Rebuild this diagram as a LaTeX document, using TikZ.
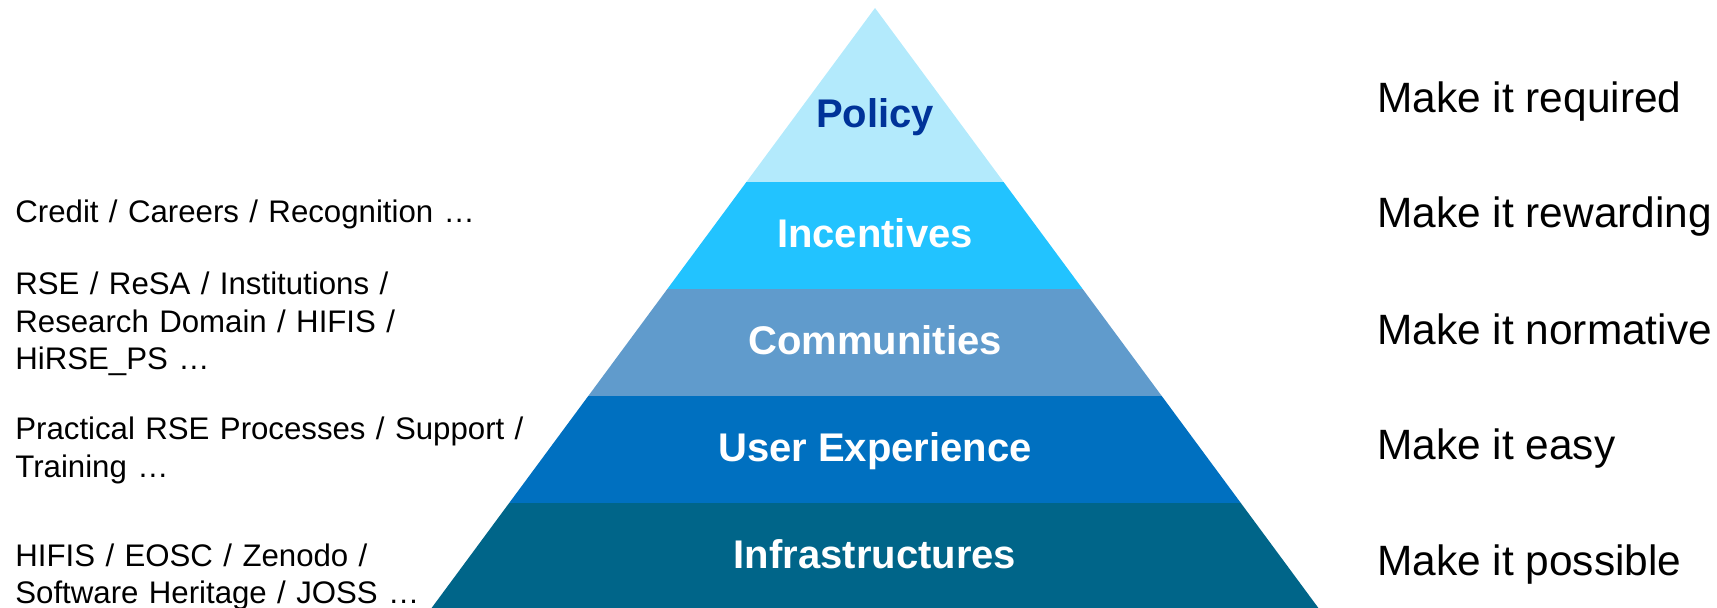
\documentclass[tikz,border=0pt]{standalone}
\usepackage{fontspec}
\setmainfont{Liberation Sans}
\definecolor{cPolicy}{RGB}{179,234,252}
\definecolor{cIncent}{RGB}{34,195,255}
\definecolor{cComm}{RGB}{96,155,204}
\definecolor{cUX}{RGB}{0,112,192}
\definecolor{cInfra}{RGB}{0,101,137}
\definecolor{cPolText}{RGB}{0,51,153}
\tikzset{
  bandlabel/.style={anchor=base, inner sep=0pt, text=white, font={\fontsize{20}{24}\selectfont\bfseries}},
  sidenote/.style={anchor=base west, inner sep=0pt, text width=300pt, align=left, font={\fontsize{15.6}{18.6}\selectfont}},
  motto/.style={anchor=base west, inner sep=0pt, font={\fontsize{21.2}{25}\selectfont}}
}
\begin{document}
\begin{tikzpicture}[x=0.5pt,y=-0.5pt]
\useasboundingbox (0,0) rectangle (1717,608);
\coordinate (apex) at (875,8);
\coordinate (bl) at (431.6,608);
\coordinate (br) at (1318.4,608);
\begin{scope}
  \clip (apex) -- (br) -- (bl) -- cycle;
  \fill[cPolicy] (0,0) rectangle (1717,182);
  \fill[cIncent] (0,182) rectangle (1717,289);
  \fill[cComm] (0,289) rectangle (1717,396);
  \fill[cUX] (0,396) rectangle (1717,503);
  \fill[cInfra] (0,503) rectangle (1717,610);
\end{scope}
\node[bandlabel, text=cPolText] (policy) at (875,128) {Policy};
\node[bandlabel] (incent) at (875,248) {Incentives};
\node[bandlabel] (comm) at (875,355) {Communities};
\node[bandlabel] (ux) at (875,462) {User Experience};
\node[bandlabel] (infra) at (875,568) {Infrastructures};

\node[sidenote] (credit) at (15,223) {Credit / Careers / Recognition …};
\node[sidenote] (rse) at (15,295) {RSE / ReSA / Institutions /\\Research Domain / HIFIS /\\HiRSE\_PS …};
\node[sidenote] (prac) at (15,440) {Practical RSE Processes / Support /\\Training …};
\node[sidenote] (hifis) at (15,566) {HIFIS / EOSC / Zenodo /\\Software Heritage / JOSS …};

\node[motto] (m1) at (1377,113) {Make it required};
\node[motto] (m2) at (1377,228) {Make it rewarding};
\node[motto] (m3) at (1377,345) {Make it normative};
\node[motto] (m4) at (1377,460) {Make it easy};
\node[motto] (m5) at (1377,575) {Make it possible};
\end{tikzpicture}
\end{document}
